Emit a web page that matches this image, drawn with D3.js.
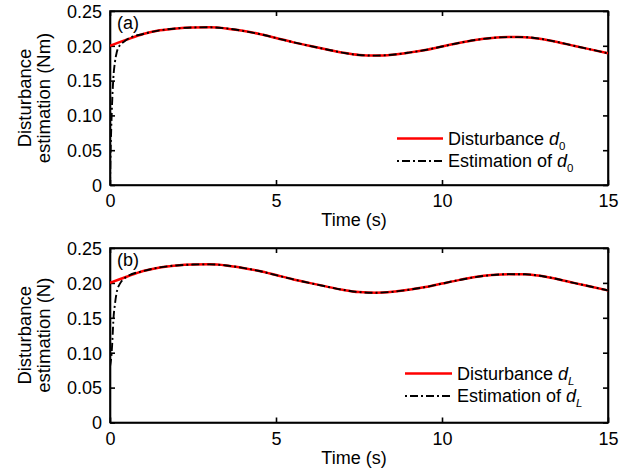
<!DOCTYPE html>
<html>
<head>
<meta charset="utf-8">
<script src="https://cdn.jsdelivr.net/npm/d3@7"></script>
<style>
  body { margin: 0; background: #fff; }
  svg { display: block; font-family: "Liberation Sans", Arial, sans-serif; }
  .axis path, .axis line { stroke: #000; stroke-width: 1.6; }
  .axis text { font-size: 18px; fill: #000; }
</style>
</head>
<body>
<svg id="chart" width="627" height="471"></svg>
<script>
// time samples (s) and disturbance (same in both panels)
const timeS = [0, 0.25, 0.5, 1.0, 1.5, 2.0, 2.5, 3.0, 3.5, 4.0, 4.5, 5.0, 5.5, 6.0, 6.5, 7.0, 7.5,
  8.0, 8.5, 9.0, 9.5, 10.0, 10.5, 11.0, 11.5, 12.0, 12.5, 13.0, 13.5, 14.0, 14.5, 15.0];
const disturbance = [0.2000, 0.2045, 0.2088, 0.2170, 0.2222, 0.2250, 0.2263, 0.2266, 0.2250, 0.2215,
  0.2170, 0.2112, 0.2053, 0.2000, 0.1950, 0.1902, 0.1868, 0.1859, 0.1872, 0.1902, 0.1940, 0.1990,
  0.2040, 0.2083, 0.2112, 0.2125, 0.2124, 0.2098, 0.2052, 0.1997, 0.1945, 0.1892];

// start-up transient of the observers, before they lock onto the disturbance
const estTimeA = [0, 0.02, 0.05, 0.1, 0.15, 0.2, 0.3, 0.4];
const estValA = [0, 0.05, 0.10, 0.153, 0.177, 0.190, 0.201, 0.205];
const estTimeB = [0, 0.05, 0.08, 0.1, 0.15, 0.2, 0.3, 0.4];
const estValB = [0.08, 0.10, 0.125, 0.145, 0.170, 0.186, 0.199, 0.205];

const xTicks = [0, 5, 10, 15];
const yTicks = [0, 0.05, 0.10, 0.15, 0.20, 0.25];

const svg = d3.select("#chart");

function toPoints(ts, vs) { return ts.map((t, i) => ({ t: t, v: vs[i] })); }
const distPts = toPoints(timeS, disturbance);
const trackPts = distPts.filter(d => d.t >= 0.5);

const panels = [
  { id: "a", top: 11, bottom: 185, tag: "(a)", unit: "(Nm)", sub: "0", subItalic: false,
    est: toPoints(estTimeA, estValA).concat(trackPts),
    leg: { x0: 397, x1: 443, y1: 138.5, y2: 161, tx: 448 } },
  { id: "b", top: 248, bottom: 422.5, tag: "(b)", unit: "(N)", sub: "L", subItalic: true,
    est: toPoints(estTimeB, estValB).concat(trackPts),
    leg: { x0: 405, x1: 452, y1: 373.5, y2: 396, tx: 457 } }
];

const left = 110, right = 608;

panels.forEach(p => {
  const x = d3.scaleLinear().domain([0, 15]).range([left, right]);
  const y = d3.scaleLinear().domain([0, 0.25]).range([p.bottom, p.top]);
  const g = svg.append("g");

  g.append("clipPath").attr("id", "clip-" + p.id)
    .append("rect").attr("x", left).attr("y", p.top)
    .attr("width", right - left).attr("height", p.bottom - p.top);

  const fmt = d => d === 0 ? "0" : d3.format(".2f")(d);

  // axes, ticks pointing inward on all four sides
  g.append("g").attr("class", "axis")
    .attr("transform", `translate(0,${p.bottom})`)
    .call(d3.axisBottom(x).tickValues(xTicks).tickSizeInner(-5).tickSizeOuter(0).tickFormat(d3.format("d")))
    .call(a => a.selectAll("text").attr("y", 22).attr("dy", 0));
  g.append("g").attr("class", "axis")
    .attr("transform", `translate(${left},0)`)
    .call(d3.axisLeft(y).tickValues(yTicks).tickSizeInner(-5).tickSizeOuter(0).tickFormat(fmt))
    .call(a => a.selectAll("text").attr("x", -8).attr("dy", "0.35em"));
  g.append("g").attr("class", "axis")
    .attr("transform", `translate(0,${p.top})`)
    .call(d3.axisTop(x).tickValues(xTicks).tickSizeInner(-5).tickSizeOuter(0).tickFormat(""));
  g.append("g").attr("class", "axis")
    .attr("transform", `translate(${right},0)`)
    .call(d3.axisRight(y).tickValues(yTicks).tickSizeInner(-5).tickSizeOuter(0).tickFormat(""));

  g.append("rect")
    .attr("x", left).attr("y", p.top)
    .attr("width", right - left).attr("height", p.bottom - p.top)
    .attr("fill", "none").attr("stroke", "#000").attr("stroke-width", 1.6);

  const line = d3.line().x(d => x(d.t)).y(d => y(d.v)).curve(d3.curveMonotoneX);
  const plot = g.append("g").attr("clip-path", `url(#clip-${p.id})`);

  plot.append("path").datum(distPts)
    .attr("d", line).attr("fill", "none")
    .attr("stroke", "#ff0000").attr("stroke-width", 2.5);
  plot.append("path").datum(p.est)
    .attr("d", line).attr("fill", "none")
    .attr("stroke", "#000").attr("stroke-width", 1.9)
    .attr("stroke-dasharray", "8,3,2,3");

  // panel tag
  g.append("text").attr("x", 117).attr("y", p.top + 18)
    .style("font-size", "18px").text(p.tag);

  // x label
  g.append("text").attr("x", 354).attr("y", p.bottom + 41)
    .attr("text-anchor", "middle").style("font-size", "18px").text("Time (s)");

  // y label in two lines
  const yc = (p.top + p.bottom) / 2;
  g.append("text").attr("transform", `translate(31,${yc}) rotate(-90)`)
    .attr("text-anchor", "middle").style("font-size", "18.5px").text("Disturbance");
  g.append("text").attr("transform", `translate(50,${yc}) rotate(-90)`)
    .attr("text-anchor", "middle").style("font-size", "18.5px").text("estimation " + p.unit);

  // legend
  const L = p.leg;
  g.append("line").attr("x1", L.x0).attr("x2", L.x1).attr("y1", L.y1).attr("y2", L.y1)
    .attr("stroke", "#ff0000").attr("stroke-width", 2.5);
  g.append("line").attr("x1", L.x0).attr("x2", L.x1).attr("y1", L.y2).attr("y2", L.y2)
    .attr("stroke", "#000").attr("stroke-width", 1.9).attr("stroke-dasharray", "2,3,8,3");

  const labels = ["Disturbance ", "Estimation of "];
  [L.y1, L.y2].forEach((ly, i) => {
    const t = g.append("text").attr("x", L.tx).attr("y", ly + 6).style("font-size", "18px");
    t.append("tspan").text(labels[i]);
    t.append("tspan").style("font-style", "italic").text("d");
    t.append("tspan").attr("dy", 5).style("font-size", "11.5px")
      .style("font-style", p.subItalic ? "italic" : "normal").text(p.sub);
  });
});
</script>
</body>
</html>
